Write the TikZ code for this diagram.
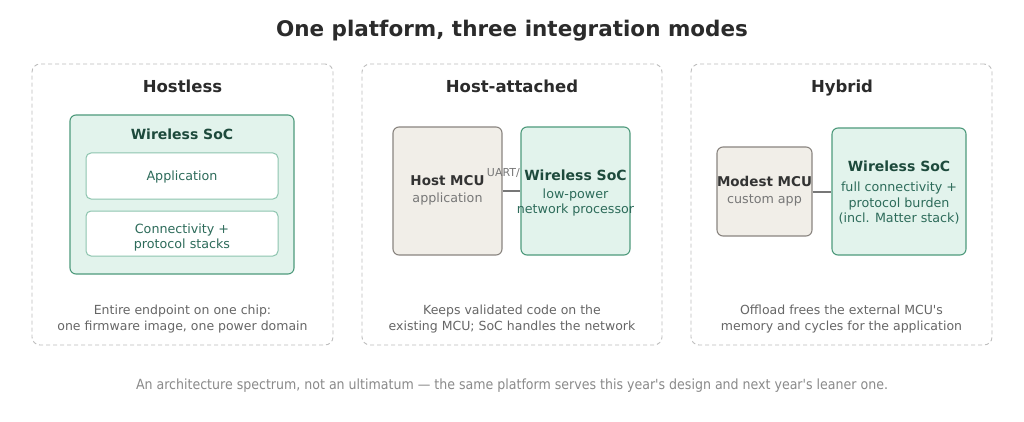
\documentclass[tikz,border=0pt]{standalone}
\usepackage{fontspec}
\setmainfont{DejaVu Sans}
\newfontfamily\condfont{DejaVu Sans Condensed}
\definecolor{titlec}{HTML}{2B2B2B}
\definecolor{panelc}{HTML}{BDBDBD}
\definecolor{socfill}{HTML}{E2F3EC}
\definecolor{socdraw}{HTML}{4E9A7C}
\definecolor{socbold}{HTML}{1D4A3C}
\definecolor{socsub}{HTML}{2D6B5A}
\definecolor{innerdraw}{HTML}{8CC4AE}
\definecolor{mcufill}{HTML}{F1EEE8}
\definecolor{mcudraw}{HTML}{8A8580}
\definecolor{mcubold}{HTML}{333333}
\definecolor{mcusub}{HTML}{777777}
\definecolor{capc}{HTML}{666666}
\definecolor{footc}{HTML}{8A8A8A}
\definecolor{linkc}{HTML}{777777}
\tikzset{
  panel/.style={draw=panelc, line width=0.9pt, dash pattern=on 4pt off 3pt, rounded corners=8pt, inner sep=0pt},
  socbox/.style={draw=socdraw, fill=socfill, line width=1.1pt, rounded corners=6pt, inner sep=0pt},
  innerbox/.style={draw=innerdraw, fill=white, line width=1pt, rounded corners=5pt, inner sep=0pt},
  mcubox/.style={draw=mcudraw, fill=mcufill, line width=1.1pt, rounded corners=6pt, inner sep=0pt},
  ptitle/.style={font=\fontsize{16.5}{20}\selectfont\bfseries, text=titlec, inner sep=0pt, anchor=base},
  socttl/.style={font=\fontsize{14}{17}\selectfont\bfseries, text=socbold, inner sep=0pt},
  mcuttl/.style={font=\fontsize{13.5}{17}\selectfont\bfseries, text=mcubold, inner sep=0pt},
  soctxt/.style={font=\fontsize{12.7}{15.5}\selectfont, text=socsub, align=center, inner sep=0pt},
  mcutxt/.style={font=\fontsize{12.7}{15.5}\selectfont, text=mcusub, align=center, inner sep=0pt},
  captxt/.style={font=\fontsize{12.5}{16}\selectfont, text=capc, align=center, inner sep=0pt},
  link/.style={draw=linkc, line width=2pt},
}
\begin{document}
\begin{tikzpicture}[x=1pt,y=-1pt]
\useasboundingbox[fill=white] (0,0) rectangle (1024,422);
% title
\node[font=\fontsize{21.5}{26}\selectfont\bfseries, text=titlec, inner sep=0pt] (title) at (512,31) {One platform, three integration modes};
% panels
\node[panel, minimum width=301pt, minimum height=281pt] (p1) at (182.5,204.5) {};
\node[panel, minimum width=300pt, minimum height=281pt] (p2) at (512,204.5) {};
\node[panel, minimum width=301pt, minimum height=281pt] (p3) at (841.5,204.5) {};
\node[ptitle] (t1) at (182.5,93) {Hostless};
\node[ptitle] (t2) at (512,93) {Host-attached};
\node[ptitle] (t3) at (842,93) {Hybrid};
% panel 1
\node[socbox, minimum width=224pt, minimum height=159pt] (soc1) at (182,194.5) {};
\node[socttl] (soc1t) at (182,134.5) {Wireless SoC};
\node[innerbox, minimum width=192pt, minimum height=46pt] (app) at (182,176) {};
\node[soctxt] (appt) at (182,176.5) {Application};
\node[innerbox, minimum width=192pt, minimum height=45pt] (conn) at (182,233.5) {};
\node[soctxt] (connt) at (182,237.5) {Connectivity +\\protocol stacks};
\node[captxt] (c1) at (182.5,319) {Entire endpoint on one chip:\\one firmware image, one power domain};
% panel 2
\node[mcubox, minimum width=109pt, minimum height=128pt] (host) at (447.5,191) {};
\node[mcuttl] (hostt) at (447.5,180.5) {Host MCU};
\node[mcutxt] (hosts) at (447.5,199) {application};
\node[font=\fontsize{11}{12}\selectfont, text=mcusub, inner sep=0pt, anchor=east] (uart) at (520,173.5) {UART/};
\node[socbox, minimum width=109pt, minimum height=128pt] (soc2) at (575.5,191) {};
\draw[link] (host.east) -- (soc2.west);
\node[socttl] (soc2t) at (575.5,175.5) {Wireless SoC};
\node[soctxt] (soc2s) at (575.5,202.5) {low-power\\network processor};
\node[captxt] (c2) at (512,319) {Keeps validated code on the\\existing MCU; SoC handles the network};
% panel 3
\node[mcubox, minimum width=95pt, minimum height=89pt] (mod) at (764.5,191.5) {};
\node[mcuttl] (modt) at (764.5,181.5) {Modest MCU};
\node[mcutxt] (mods) at (764.5,200) {custom app};
\node[socbox, minimum width=134pt, minimum height=127pt] (soc3) at (899,191.5) {};
\draw[link] (mod.east) -- (soc3.west);
\node[socttl] (soc3t) at (899,166.5) {Wireless SoC};
\node[soctxt] (soc3s) at (899,203.5) {full connectivity +\\protocol burden\\(incl. Matter stack)};
\node[captxt] (c3) at (841.5,319) {Offload frees the external MCU\textquotesingle s\\memory and cycles for the application};
% footer
\node[font=\condfont\fontsize{14}{16}\selectfont, text=footc, inner sep=0pt] (foot) at (512,386) {An architecture spectrum, not an ultimatum — the same platform serves this year's design and next year's leaner one.};
\end{tikzpicture}
\end{document}
